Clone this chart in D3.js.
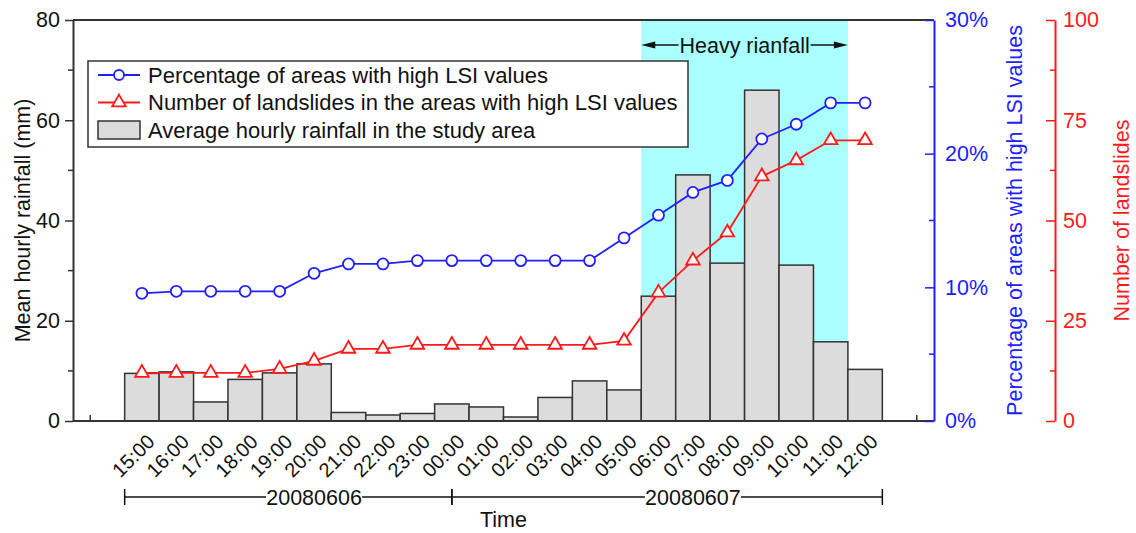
<!DOCTYPE html>
<html>
<head>
  <meta charset="utf-8">
  <style>
  *{
    margin: 0;
    padding: 0;
  }
  body{
    background: #fff;
  }
  text{
    font-family: 'Liberation Sans', Arial, sans-serif;
  }
  </style>
</head>
<body>
  <div class="chart"></div>
  <script src="https://cdn.jsdelivr.net/npm/d3@7"></script>
  <script>

  // hours of 6-7 June 2008
  let times = ['15:00','16:00','17:00','18:00','19:00','20:00','21:00','22:00','23:00',
    '00:00','01:00','02:00','03:00','04:00','05:00','06:00','07:00','08:00','09:00',
    '10:00','11:00','12:00'];
  // mean hourly rainfall (mm)
  let rainfall = [9.5, 9.8, 3.8, 8.3, 9.6, 11.4, 1.7, 1.2, 1.5, 3.4, 2.8, 0.8, 4.7,
    8.0, 6.2, 24.9, 49.1, 31.5, 66.0, 31.1, 15.8, 10.3];
  // percentage of areas with high LSI values
  let percent = [9.55, 9.7, 9.7, 9.7, 9.7, 11.05, 11.75, 11.75, 12.0, 12.0, 12.0, 12.0,
    12.0, 12.0, 13.7, 15.4, 17.1, 18.0, 21.1, 22.2, 23.8, 23.8];
  // number of landslides in the areas with high LSI values
  let landslides = [12, 12, 12, 12, 13, 15, 18, 18, 19, 19, 19, 19, 19, 19, 20, 32, 40,
    47, 61, 65, 70, 70];
  // date groups: first / last hour index, and the hour the label sits under
  let dates = ['20080606', '20080607'];
  let dateSpans = [[0, 9], [9, 21]];
  let dateLabelAt = [5, 16];
  let heavyRange = [15, 20];

  let leftTicks = [0, 20, 40, 60, 80];
  let pctTicks = [0, 10, 20, 30];
  let numTicks = [0, 25, 50, 75, 100];

  let W = 1136, H = 533;
  let pLeft = 73, pRight = 934, pTop = 20, pBottom = 421;
  let blue = '#2020ff', red = '#ff1a1a';
  let fs = 21.5;

  let svg = d3.select('.chart').append('svg')
    .attr('width', W).attr('height', H);

  // x: bars sit at i + 2 on a 0..25 axis
  let x = d3.scaleLinear().domain([0, 25]).range([pLeft, pRight]);
  let bw = x(1) - x(0);
  let yRain = d3.scaleLinear().domain([0, 80]).range([pBottom, pTop]);
  let yPct = d3.scaleLinear().domain([0, 30]).range([pBottom, pTop]);
  let yNum = d3.scaleLinear().domain([0, 100]).range([pBottom, pTop]);

  // heavy rainfall band
  svg.append('rect')
    .attr('x', x(heavyRange[0] + 1.5))
    .attr('y', pTop)
    .attr('width', x(heavyRange[1] + 2.5) - x(heavyRange[0] + 1.5))
    .attr('height', pBottom - pTop)
    .attr('fill', '#aaffff');

  // bars
  svg.selectAll('rect.bar')
    .data(rainfall)
    .enter()
    .append('rect')
    .attr('class', 'bar')
    .attr('x', (d, i) => x(i + 1.5))
    .attr('y', d => yRain(d))
    .attr('width', bw)
    .attr('height', d => pBottom - yRain(d))
    .attr('fill', '#dcdcdc')
    .attr('stroke', '#333')
    .attr('stroke-width', 1.5);

  // frame top + bottom
  svg.append('line').attr('x1', pLeft).attr('x2', pRight).attr('y1', pTop).attr('y2', pTop)
    .attr('stroke', '#333').attr('stroke-width', 2);
  svg.append('line').attr('x1', pLeft).attr('x2', pRight).attr('y1', pBottom).attr('y2', pBottom)
    .attr('stroke', '#333').attr('stroke-width', 2);
  [0.5, 24.5].forEach(function(v){
    svg.append('line').attr('x1', x(v)).attr('x2', x(v)).attr('y1', pBottom).attr('y2', pBottom - 6)
      .attr('stroke', '#333').attr('stroke-width', 1.5);
  });

  // left axis
  let yAxisL = d3.axisLeft(yRain).tickValues(leftTicks).tickSize(8).tickSizeOuter(0).tickPadding(5);
  let gL = svg.append('g').attr('transform', 'translate(' + pLeft + ',0)').call(yAxisL);
  gL.select('.domain').attr('stroke', '#333').attr('stroke-width', 2);
  gL.selectAll('line').attr('stroke', '#333').attr('stroke-width', 1.5);
  gL.selectAll('text').attr('font-size', fs).attr('fill', '#111');
  gL.selectAll('.minor').data([10, 30, 50, 70]).enter().append('line')
    .attr('x1', -5).attr('x2', 0).attr('y1', d => yRain(d)).attr('y2', d => yRain(d))
    .attr('stroke', '#333').attr('stroke-width', 1.5);

  // percent axis (blue)
  let yAxisP = d3.axisRight(yPct).tickValues(pctTicks).tickSize(-9).tickSizeOuter(0).tickPadding(11)
    .tickFormat(d => d + '%');
  let gP = svg.append('g').attr('transform', 'translate(' + pRight + ',0)').call(yAxisP);
  gP.select('.domain').attr('stroke', blue).attr('stroke-width', 2);
  gP.selectAll('line').attr('stroke', blue).attr('stroke-width', 1.5);
  gP.selectAll('text').attr('font-size', fs).attr('fill', blue);
  gP.selectAll('.minor').data([5, 15, 25]).enter().append('line')
    .attr('x1', -5).attr('x2', 0).attr('y1', d => yPct(d)).attr('y2', d => yPct(d))
    .attr('stroke', blue).attr('stroke-width', 1.5);

  // landslide axis (red)
  let xNum = 1055;
  let yAxisN = d3.axisRight(yNum).tickValues(numTicks).tickSize(-9).tickSizeOuter(0).tickPadding(8);
  let gN = svg.append('g').attr('transform', 'translate(' + xNum + ',0)').call(yAxisN);
  gN.select('.domain').attr('stroke', red).attr('stroke-width', 2);
  gN.selectAll('line').attr('stroke', red).attr('stroke-width', 1.5);
  gN.selectAll('text').attr('font-size', fs).attr('fill', red);
  gN.selectAll('.minor').data([12.5, 37.5, 62.5, 87.5]).enter().append('line')
    .attr('x1', -5).attr('x2', 0).attr('y1', d => yNum(d)).attr('y2', d => yNum(d))
    .attr('stroke', red).attr('stroke-width', 1.5);

  // axis titles
  svg.append('text')
    .attr('transform', 'translate(30,' + ((pTop + pBottom) / 2) + ') rotate(-90)')
    .attr('text-anchor', 'middle').attr('font-size', fs).attr('fill', '#111')
    .text('Mean hourly rainfall (mm)');
  svg.append('text')
    .attr('transform', 'translate(1022,' + ((pTop + pBottom) / 2) + ') rotate(-90)')
    .attr('text-anchor', 'middle').attr('font-size', fs).attr('fill', blue)
    .text('Percentage of areas with high LSI values');
  svg.append('text')
    .attr('transform', 'translate(1129,' + ((pTop + pBottom) / 2) + ') rotate(-90)')
    .attr('text-anchor', 'middle').attr('font-size', fs).attr('fill', red)
    .text('Number of landslides');

  // percent line
  let linePct = d3.line().x((d, i) => x(i + 2)).y(d => yPct(d));
  svg.append('path').datum(percent).attr('d', linePct)
    .attr('fill', 'none').attr('stroke', blue).attr('stroke-width', 1.8);
  svg.selectAll('circle.pct').data(percent).enter().append('circle')
    .attr('class', 'pct')
    .attr('cx', (d, i) => x(i + 2)).attr('cy', d => yPct(d)).attr('r', 5.5)
    .attr('fill', '#fff').attr('stroke', blue).attr('stroke-width', 1.8);

  // landslide line
  let lineNum = d3.line().x((d, i) => x(i + 2)).y(d => yNum(d));
  let tri = d3.symbol().type(d3.symbolTriangle).size(80);
  svg.append('path').datum(landslides).attr('d', lineNum)
    .attr('fill', 'none').attr('stroke', red).attr('stroke-width', 1.8);
  svg.selectAll('path.num').data(landslides).enter().append('path')
    .attr('class', 'num')
    .attr('d', tri)
    .attr('transform', (d, i) => 'translate(' + x(i + 2) + ',' + yNum(d) + ')')
    .attr('fill', '#fff').attr('stroke', red).attr('stroke-width', 1.8);

  // x tick labels
  svg.selectAll('text.hour').data(times).enter().append('text')
    .attr('class', 'hour')
    .attr('transform', (d, i) => 'translate(' + (x(i + 2) + 14) + ',443) rotate(-45)')
    .attr('text-anchor', 'end').attr('font-size', 20).attr('fill', '#111')
    .text(d => d);

  // heavy rainfall arrow
  let ay = 45;
  let hx0 = x(heavyRange[0] + 1.5), hx1 = x(heavyRange[1] + 2.5);
  let hmid = (hx0 + hx1) / 2;
  svg.append('text').attr('x', hmid).attr('y', ay + 8)
    .attr('text-anchor', 'middle').attr('font-size', fs).attr('fill', '#111')
    .text('Heavy rianfall');
  [[hx0, hmid - 66], [hx1, hmid + 66]].forEach(function(p){
    let dir = p[0] < p[1] ? 1 : -1;
    svg.append('line').attr('x1', p[0] + dir * 8).attr('x2', p[1]).attr('y1', ay).attr('y2', ay)
      .attr('stroke', '#111').attr('stroke-width', 1.5);
    svg.append('path')
      .attr('d', 'M' + p[0] + ',' + ay + 'L' + (p[0] + dir * 14) + ',' + (ay - 3.5) +
        'L' + (p[0] + dir * 14) + ',' + (ay + 3.5) + 'Z')
      .attr('fill', '#111');
  });

  // legend
  let lg = svg.append('g').attr('transform', 'translate(88,61)');
  lg.append('rect').attr('width', 600).attr('height', 86)
    .attr('fill', '#fff').attr('stroke', '#333').attr('stroke-width', 1.5);
  let legendItems = ['Percentage of areas with high LSI values',
    'Number of landslides in the areas with high LSI values',
    'Average hourly rainfall in the study area'];
  legendItems.forEach(function(label, i){
    let ly = 14 + i * 27.5;
    if(i == 0){
      lg.append('line').attr('x1', 10).attr('x2', 52).attr('y1', ly).attr('y2', ly)
        .attr('stroke', blue).attr('stroke-width', 1.8);
      lg.append('circle').attr('cx', 31).attr('cy', ly).attr('r', 5)
        .attr('fill', '#fff').attr('stroke', blue).attr('stroke-width', 1.8);
    }else if(i == 1){
      lg.append('line').attr('x1', 10).attr('x2', 52).attr('y1', ly).attr('y2', ly)
        .attr('stroke', red).attr('stroke-width', 1.8);
      lg.append('path').attr('d', tri).attr('transform', 'translate(31,' + ly + ')')
        .attr('fill', '#fff').attr('stroke', red).attr('stroke-width', 1.8);
    }else{
      lg.append('rect').attr('x', 10).attr('y', ly - 9).attr('width', 42).attr('height', 18)
        .attr('fill', '#dcdcdc').attr('stroke', '#333').attr('stroke-width', 1.5);
    }
    lg.append('text').attr('x', 60).attr('y', ly + 7.5)
      .attr('font-size', 22).attr('fill', '#111').text(label);
  });

  // date brackets
  let dy = 497;
  dates.forEach(function(d, k){
    let a = dateSpans[k][0], b = dateSpans[k][1];
    let xa = k == 0 ? x(a + 1.5) : x(a + 2);
    let xb = k == dates.length - 1 ? x(b + 2.5) : x(b + 2);
    let xm = x(dateLabelAt[k] + 2);
    let halfText = 48;
    svg.append('line').attr('x1', xa).attr('x2', xm - halfText).attr('y1', dy).attr('y2', dy)
      .attr('stroke', '#111').attr('stroke-width', 1.5);
    svg.append('line').attr('x1', xm + halfText).attr('x2', xb).attr('y1', dy).attr('y2', dy)
      .attr('stroke', '#111').attr('stroke-width', 1.5);
    [xa, xb].forEach(function(xx){
      svg.append('line').attr('x1', xx).attr('x2', xx).attr('y1', dy - 8).attr('y2', dy + 8)
        .attr('stroke', '#111').attr('stroke-width', 1.5);
    });
    svg.append('text').attr('x', xm).attr('y', dy + 7.5)
      .attr('text-anchor', 'middle').attr('font-size', fs).attr('fill', '#111').text(d);
  });

  svg.append('text').attr('x', x(12.5)).attr('y', 527)
    .attr('text-anchor', 'middle').attr('font-size', fs).attr('fill', '#111').text('Time');

  </script>
</body>
</html>
